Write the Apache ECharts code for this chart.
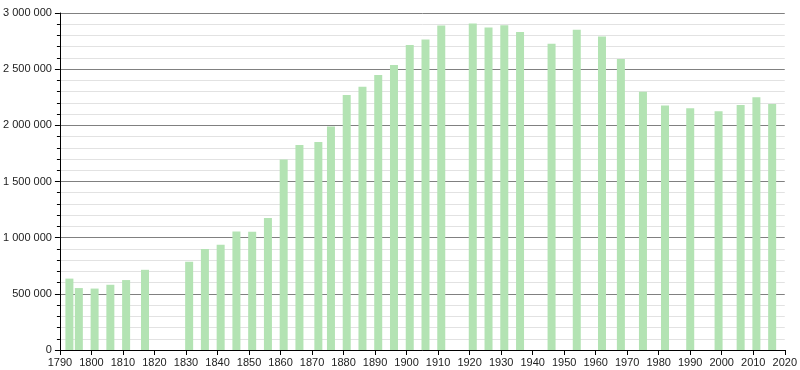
<!DOCTYPE html>
<html>
<head>
<meta charset="utf-8">
<script src="https://cdn.jsdelivr.net/npm/echarts@6/dist/echarts.min.js"></script>
<style>
html,body{margin:0;padding:0;background:#fff;}
#chart{width:800px;height:370px;}
</style>
</head>
<body>
<div id="chart"></div>
<script>
const years = [1793,1796,1801,1806,1811,1817,1831,1836,1841,1846,1851,1856,1861,1866,1872,1876,1881,1886,1891,1896,1901,1906,1911,1921,1926,1931,1936,1946,1954,1962,1968,1975,1982,1990,1999,2006,2011,2016];
const population = [635504,551347,546856,580609,622636,713966,785862,899313,936261,1053897,1053262,1174346,1696141,1825274,1851792,1988806,2269023,2344550,2447957,2536834,2714068,2763393,2888110,2906472,2871429,2891020,2829753,2725374,2850189,2790091,2590771,2299830,2176243,2152423,2125246,2181371,2249975,2190327];

function fmt(v){
  return String(Math.round(v)).replace(/\B(?=(\d{3})+(?!\d))/g, ' ');
}

const chart = echarts.init(document.getElementById('chart'), null, {renderer:'canvas'});
const font = {fontFamily:'Liberation Sans, Arial, sans-serif', fontSize:11, color:'#222'};
chart.setOption({
  animation:false,
  grid:{left:56, right:11, top:13, bottom:20, containLabel:false},
  xAxis:{
    type:'value', min:1790, max:2020, interval:10,
    axisLine:{show:true, lineStyle:{color:'#000', width:1}},
    axisTick:{show:true, length:5, lineStyle:{color:'#000'}},
    axisLabel:Object.assign({margin:7, formatter:v=>String(v)}, font),
    splitLine:{show:false}
  },
  yAxis:{
    type:'value', min:0, max:3000000, interval:500000,
    axisLine:{show:true, lineStyle:{color:'#000', width:1}},
    axisTick:{show:true, length:5, lineStyle:{color:'#000'}},
    minorTick:{show:true, splitNumber:5, length:3, lineStyle:{color:'#000'}},
    axisLabel:Object.assign({margin:8, formatter:fmt}, font),
    splitLine:{show:true, lineStyle:{color:'#808080', width:1}},
    minorSplitLine:{show:true, lineStyle:{color:'#e2e2e2', width:1}}
  },
  series:[{
    type:'bar',
    barWidth:8,
    itemStyle:{color:'#b3e3b3'},
    data:years.map((y,i)=>[y, population[i]])
  }]
});
</script>
</body>
</html>
